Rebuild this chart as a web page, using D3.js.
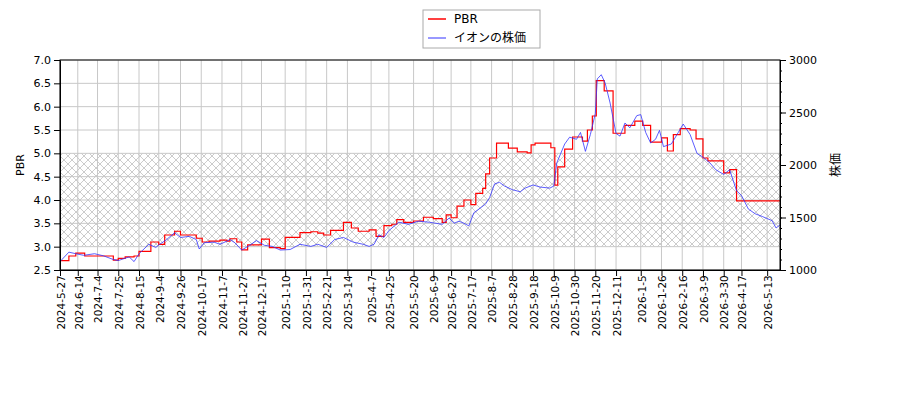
<!DOCTYPE html>
<html><head><meta charset="utf-8">
<script src="https://cdn.jsdelivr.net/npm/d3@7"></script>
<style>body{margin:0;background:#fff}svg{font-family:"DejaVu Sans",sans-serif}</style>
</head><body><svg id="c" width="900" height="400"></svg>
<script>
const tickLabels=["2024-5-27","2024-6-14","2024-7-4","2024-7-25","2024-8-15","2024-9-4","2024-9-26","2024-10-17","2024-11-7","2024-11-27","2024-12-17","2025-1-10","2025-1-31","2025-2-21","2025-3-14","2025-4-7","2025-4-25","2025-5-20","2025-6-9","2025-6-27","2025-7-17","2025-8-7","2025-8-28","2025-9-18","2025-10-9","2025-10-30","2025-11-20","2025-12-11","2026-1-5","2026-1-26","2026-2-16","2026-3-9","2026-3-30","2026-4-17","2026-5-13"];
const pbrDates=["2024-5-27","2024-6-5","2024-6-12","2024-6-21","2024-7-20","2024-7-25","2024-8-1","2024-8-10","2024-8-15","2024-8-27","2024-9-4","2024-9-10","2024-9-20","2024-9-26","2024-10-12","2024-10-18","2024-10-25","2024-11-5","2024-11-12","2024-11-15","2024-11-22","2024-11-27","2024-12-3","2024-12-17","2024-12-25","2025-1-5","2025-1-10","2025-1-25","2025-2-5","2025-2-12","2025-2-18","2025-2-25","2025-3-10","2025-3-18","2025-3-25","2025-4-5","2025-4-12","2025-4-20","2025-4-28","2025-5-3","2025-5-10","2025-5-20","2025-5-30","2025-6-9","2025-6-18","2025-6-22","2025-6-27","2025-7-3","2025-7-10","2025-7-17","2025-7-22","2025-7-29","2025-8-1","2025-8-5","2025-8-12","2025-8-24","2025-9-2","2025-9-12","2025-9-16","2025-9-20","2025-10-6","2025-10-10","2025-10-13","2025-10-20","2025-10-28","2025-11-7","2025-11-12","2025-11-17","2025-11-21","2025-11-29","2025-12-8","2025-12-20","2025-12-30","2026-1-7","2026-1-15","2026-1-26","2026-2-1","2026-2-7","2026-2-14","2026-2-24","2026-3-2","2026-3-9","2026-3-14","2026-3-30","2026-4-5","2026-4-12","2026-5-26"];
const pbrValues=[2.70,2.80,2.86,2.80,2.71,2.75,2.78,2.80,2.90,3.10,3.05,3.25,3.33,3.25,3.18,3.10,3.12,3.14,3.12,3.17,3.10,2.93,3.04,3.16,2.98,2.96,3.20,3.30,3.32,3.29,3.25,3.35,3.52,3.40,3.33,3.36,3.22,3.45,3.48,3.58,3.52,3.55,3.63,3.60,3.52,3.68,3.62,3.87,4.00,3.90,4.14,4.25,4.56,4.90,5.22,5.11,5.03,5.01,5.18,5.22,5.12,4.32,4.71,5.09,5.35,5.26,5.50,5.80,6.56,6.34,5.43,5.60,5.69,5.60,5.24,5.33,5.05,5.40,5.53,5.50,5.31,4.90,4.84,4.58,4.65,3.98,3.98];
const priceDates=["2024-5-27","2024-6-5","2024-6-12","2024-6-20","2024-7-1","2024-7-10","2024-7-20","2024-7-25","2024-8-5","2024-8-10","2024-8-15","2024-8-25","2024-9-1","2024-9-5","2024-9-12","2024-9-20","2024-9-26","2024-10-5","2024-10-12","2024-10-15","2024-10-20","2024-10-30","2024-11-5","2024-11-12","2024-11-15","2024-11-20","2024-11-27","2024-12-5","2024-12-12","2024-12-20","2024-12-28","2025-1-5","2025-1-15","2025-1-25","2025-2-5","2025-2-12","2025-2-21","2025-3-1","2025-3-10","2025-3-20","2025-3-30","2025-4-5","2025-4-10","2025-4-15","2025-4-20","2025-4-25","2025-5-5","2025-5-15","2025-5-25","2025-6-5","2025-6-18","2025-6-25","2025-6-30","2025-7-5","2025-7-10","2025-7-15","2025-7-20","2025-7-28","2025-8-1","2025-8-5","2025-8-10","2025-8-15","2025-8-20","2025-8-28","2025-9-5","2025-9-10","2025-9-18","2025-9-25","2025-10-5","2025-10-9","2025-10-12","2025-10-20","2025-10-25","2025-11-1","2025-11-5","2025-11-10","2025-11-15","2025-11-20","2025-11-22","2025-11-26","2025-11-30","2025-12-5","2025-12-11","2025-12-15","2025-12-20","2025-12-25","2026-1-1","2026-1-5","2026-1-10","2026-1-15","2026-1-20","2026-1-24","2026-1-28","2026-2-5","2026-2-12","2026-2-17","2026-2-24","2026-3-3","2026-3-9","2026-3-16","2026-3-22","2026-3-30","2026-4-5","2026-4-12","2026-4-17","2026-4-24","2026-5-1","2026-5-8","2026-5-13","2026-5-18","2026-5-22","2026-5-26"];
const priceValues=[1080,1170,1155,1140,1155,1135,1100,1090,1125,1080,1155,1245,1215,1245,1290,1355,1310,1320,1290,1200,1260,1265,1245,1275,1290,1260,1190,1235,1280,1235,1225,1190,1195,1245,1225,1245,1215,1290,1310,1265,1245,1225,1245,1335,1310,1375,1455,1435,1465,1455,1435,1495,1445,1465,1445,1420,1545,1600,1630,1690,1820,1835,1800,1765,1745,1780,1810,1790,1780,1800,2020,2200,2265,2245,2310,2130,2290,2490,2820,2860,2780,2590,2300,2275,2400,2355,2470,2480,2310,2210,2245,2330,2175,2200,2310,2390,2290,2110,2075,2020,1955,1910,1955,1755,1710,1580,1535,1510,1490,1470,1400,1430];

const svg=d3.select("#c");
const L=60,R=780,T=60,B=270;
const parse=d3.timeParse("%Y-%-m-%-d");
const x=d3.scaleTime().domain([parse("2024-5-27"),parse("2026-5-26")]).range([L,R]);
const y=d3.scaleLinear().domain([2.5,7]).range([B,T]);
const y2=d3.scaleLinear().domain([1000,3000]).range([B,T]);

const defs=svg.append("defs");
const pat=defs.append("pattern").attr("id","h").attr("patternUnits","userSpaceOnUse").attr("width",8).attr("height",8);
pat.append("path").attr("d","M0,0L8,8M8,0L0,8").attr("stroke","#aaa").attr("stroke-width",0.6);
svg.append("rect").attr("x",L).attr("width",R-L).attr("y",y(5)).attr("height",y(3)-y(5)).attr("fill","url(#h)");

const tdates=tickLabels.map(parse);
const g=svg.append("g");
tdates.forEach(d=>g.append("line").attr("x1",x(d)).attr("x2",x(d)).attr("y1",T).attr("y2",B).attr("stroke","#c8c8c8"));
d3.range(2.5,7.01,0.5).forEach(v=>g.append("line").attr("x1",L).attr("x2",R).attr("y1",y(v)).attr("y2",y(v)).attr("stroke","#c8c8c8"));

const pd=pbrDates.map(parse);
svg.append("path").datum(pd.map((d,i)=>[d,pbrValues[i]])).attr("fill","none").attr("stroke","#f00").attr("stroke-width",1.2)
 .attr("d",d3.line().x(d=>x(d[0])).y(d=>y(d[1])).curve(d3.curveStepAfter));
const qd=priceDates.map(parse);
svg.append("path").datum(qd.map((d,i)=>[d,priceValues[i]])).attr("fill","none").attr("stroke","#33f").attr("stroke-width",0.8)
 .attr("d",d3.line().x(d=>x(d[0])).y(d=>y2(d[1])));

svg.append("rect").attr("x",L).attr("y",T).attr("width",R-L).attr("height",B-T).attr("fill","none").attr("stroke","#000");
const xa=svg.append("g").attr("transform",`translate(0,${B})`).call(d3.axisBottom(x).tickValues(tdates).tickFormat((d,i)=>tickLabels[i]).tickSizeOuter(0));
xa.selectAll("text").attr("transform","rotate(-90)").attr("text-anchor","end").attr("dx","-0.5em").attr("dy","-0.45em").attr("font-size",10.5).attr("font-family","DejaVu Sans");
const ya=svg.append("g").attr("transform",`translate(${L},0)`).call(d3.axisLeft(y).tickValues(d3.range(2.5,7.01,0.5)).tickFormat(d3.format(".1f")).tickSizeOuter(0));
const y2a=svg.append("g").attr("transform",`translate(${R},0)`).call(d3.axisRight(y2).tickValues([1000,1500,2000,2500,3000]).tickFormat(d3.format("d")).tickSizeOuter(0));
svg.append("g").attr("transform",`translate(${R},0)`).call(d3.axisRight(y2).tickValues(d3.range(1000,3001,100)).tickSize(2).tickFormat("")).select(".domain").remove();
[ya,y2a].forEach(a=>a.selectAll("text").attr("font-size",11).attr("font-family","DejaVu Sans"));
svg.selectAll(".domain").attr("stroke","#000");

svg.append("text").attr("transform","translate(24,165) rotate(-90)").attr("text-anchor","middle").attr("font-size",11).text("PBR");
svg.append("text").attr("transform","translate(840,165) rotate(-90)").attr("text-anchor","middle").attr("font-size",12).attr("font-family","Noto Sans CJK JP").text("株価");

const lg=svg.append("g");
lg.append("rect").attr("x",423).attr("y",10).attr("width",117).attr("height",38).attr("fill","#fff").attr("stroke","#aaa");
lg.append("line").attr("x1",428).attr("x2",446).attr("y1",19).attr("y2",19).attr("stroke","#f00").attr("stroke-width",1.5);
lg.append("line").attr("x1",428).attr("x2",446).attr("y1",38).attr("y2",38).attr("stroke","#33f").attr("stroke-width",1);
lg.append("text").attr("x",454).attr("y",23).attr("font-size",12).text("PBR");
lg.append("text").attr("x",454).attr("y",42).attr("font-size",12).attr("font-family","Noto Sans CJK JP").text("イオンの株価");
</script></body></html>
